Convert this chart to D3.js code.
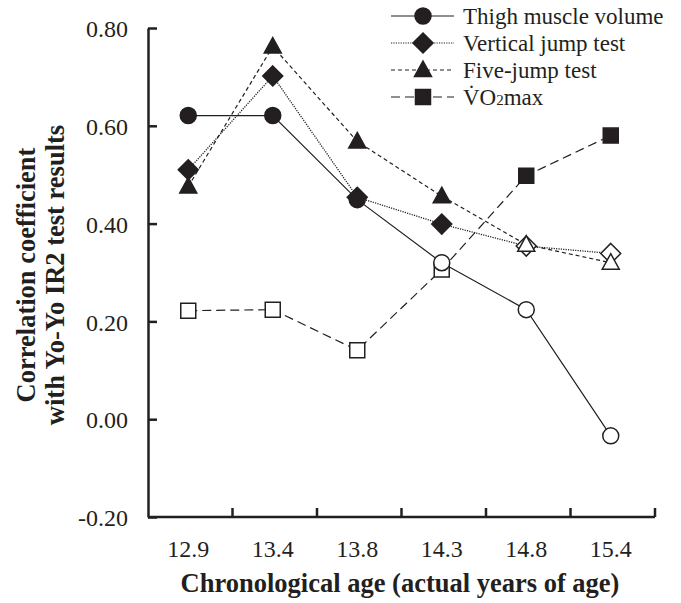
<!DOCTYPE html>
<html lang="en">
<head>
<meta charset="UTF-8">
<title>Correlation with Yo-Yo IR2</title>
<style>
    body, html { margin: 0; padding: 0; background: #fff; }
    svg { display: block; font-family: 'Liberation Serif', 'Times New Roman', serif; }
    .axis path, .axis line { stroke: #231f20; stroke-width: 2.5px; }
</style>
</head>
<body>
<svg width="681" height="603"></svg>
<script src="https://d3js.org/d3.v7.min.js"></script>
<script>
    // Data
    const ages = ["12.9", "13.4", "13.8", "14.3", "14.8", "15.4"];
    const yTicks = [-0.2, 0, 0.2, 0.4, 0.6, 0.8];

    const thigh = [0.621, 0.621, 0.449, 0.320, 0.224, -0.034];
    const vertical = [0.510, 0.702, 0.454, 0.399, 0.354, 0.339];
    const fiveJump = [0.476, 0.762, 0.568, 0.456, 0.357, 0.320];
    const vo2 = [0.222, 0.224, 0.141, 0.306, 0.498, 0.580];

    // filled = significant, open = not significant
    const thighSig = [1, 1, 1, 0, 0, 0];
    const verticalSig = [1, 1, 1, 1, 0, 0];
    const fiveJumpSig = [1, 1, 1, 1, 0, 0];
    const vo2Sig = [0, 0, 0, 0, 1, 1];

    const ink = "#231f20";
    const serif = "'Liberation Serif', 'Times New Roman', serif";
    const svg = d3.select("svg");

    const x = d3.scaleBand().domain(ages).range([148, 655]);
    const y = d3.scaleLinear().domain([-0.2, 0.8]).range([517, 28]);

    // marker shapes
    const shapes = {
        circle: (cx, cy) => `M${cx + 8},${cy}A8,8 0 1,1 ${cx - 8},${cy}A8,8 0 1,1 ${cx + 8},${cy}Z`,
        diamond: (cx, cy) => `M${cx},${cy - 10}L${cx + 10},${cy}L${cx},${cy + 10}L${cx - 10},${cy}Z`,
        triangle: (cx, cy) => `M${cx},${cy - 9}L${cx + 8.5},${cy + 6.5}L${cx - 8.5},${cy + 6.5}Z`,
        square: (cx, cy) => `M${cx - 7.5},${cy - 7.5}h15v15h-15Z`
    };

    const series = [
        { name: "VO2max", values: vo2, sig: vo2Sig, shape: "square", dash: "9,5" },
        { name: "Vertical jump test", values: vertical, sig: verticalSig, shape: "diamond", dash: "1.2,1.2" },
        { name: "Five-jump test", values: fiveJump, sig: fiveJumpSig, shape: "triangle", dash: "4,3" },
        { name: "Thigh muscle volume", values: thigh, sig: thighSig, shape: "circle", dash: null }
    ];

    // axes
    const yAxis = svg.append("g")
        .attr("class", "axis")
        .attr("transform", "translate(148,0)")
        .call(d3.axisLeft(y).tickValues(yTicks).tickFormat(d => d.toFixed(2))
            .tickSizeInner(-9).tickSizeOuter(0).tickPadding(20));
    yAxis.attr("font-family", null).attr("font-size", null);
    yAxis.selectAll(".tick text")
        .attr("dy", "0.36em")
        .style("font-family", serif)
        .style("font-size", "24px")
        .attr("fill", ink);

    const xAxis = svg.append("g")
        .attr("class", "axis")
        .attr("transform", "translate(0,517)")
        .call(d3.axisBottom(x).tickSize(0).tickPadding(23));
    xAxis.attr("font-family", null).attr("font-size", null);
    xAxis.select(".domain").attr("d", `M${x.range()[0]},0H${x.range()[1]}`);
    xAxis.selectAll(".tick text")
        .attr("dy", "0.71em").attr("dx", "-2")
        .style("font-family", serif)
        .style("font-size", "24px")
        .attr("fill", ink);

    // boundary ticks between categories, pointing up
    xAxis.selectAll(".bound")
        .data(ages)
        .enter()
        .append("line")
        .attr("class", "bound")
        .attr("x1", d => x(d) + x.bandwidth())
        .attr("x2", d => x(d) + x.bandwidth())
        .attr("y1", 0)
        .attr("y2", -9);

    const cx = d => x(d) + x.bandwidth() / 2 - 2;

    // lines
    const line = d3.line().x((d, i) => cx(ages[i])).y(d => y(d));
    series.forEach(s => {
        svg.append("path")
            .datum(s.values)
            .attr("fill", "none")
            .attr("stroke", ink)
            .attr("stroke-width", s.shape === "diamond" ? 1.3 : 1.2)
            .attr("stroke-dasharray", s.dash)
            .attr("d", line);
    });

    // markers
    series.forEach(s => {
        svg.append("g").selectAll("path")
            .data(s.values)
            .enter()
            .append("path")
            .attr("d", (d, i) => shapes[s.shape](cx(ages[i]), y(d)))
            .attr("fill", (d, i) => s.sig[i] ? ink : "#fff")
            .attr("stroke", ink)
            .attr("stroke-width", 1.5);
    });

    // axis titles
    svg.append("text")
        .attr("x", 400)
        .attr("y", 592)
        .attr("text-anchor", "middle")
        .attr("font-weight", "bold")
        .attr("font-size", 26.5)
        .attr("fill", ink)
        .text("Chronological age (actual years of age)");

    const yTitle = svg.append("text")
        .attr("transform", "translate(0,275) rotate(-90)")
        .attr("text-anchor", "middle")
        .attr("font-weight", "bold")
        .attr("font-size", 26.5)
        .attr("fill", ink);
    yTitle.append("tspan").attr("x", 0).attr("y", 35).text("Correlation coefficient");
    yTitle.append("tspan").attr("x", 0).attr("y", 64).text("with Yo-Yo IR2 test results");

    // legend
    const legendOrder = [series[3], series[1], series[2], series[0]];
    const legend = svg.append("g");
    legendOrder.forEach((s, i) => {
        const ly = 16 + i * 27;
        legend.append("line")
            .attr("x1", 391).attr("x2", 454)
            .attr("y1", ly).attr("y2", ly)
            .attr("stroke", ink)
            .attr("stroke-width", 1.2)
            .attr("stroke-dasharray", s.dash);
        legend.append("path")
            .attr("d", shapes[s.shape](423, ly))
            .attr("fill", ink)
            .attr("stroke", ink)
            .attr("stroke-width", 1.5);
        const t = legend.append("text")
            .attr("x", 463)
            .attr("y", ly + 8)
            .attr("font-size", 23)
            .attr("fill", ink);
        if (s.shape === "square") {
            t.append("tspan").text("V\u0307O");
            t.append("tspan").attr("font-size", 15).text("2");
            t.append("tspan").text("max");
        } else {
            t.text(s.name);
        }
    });
</script>
</body>
</html>
